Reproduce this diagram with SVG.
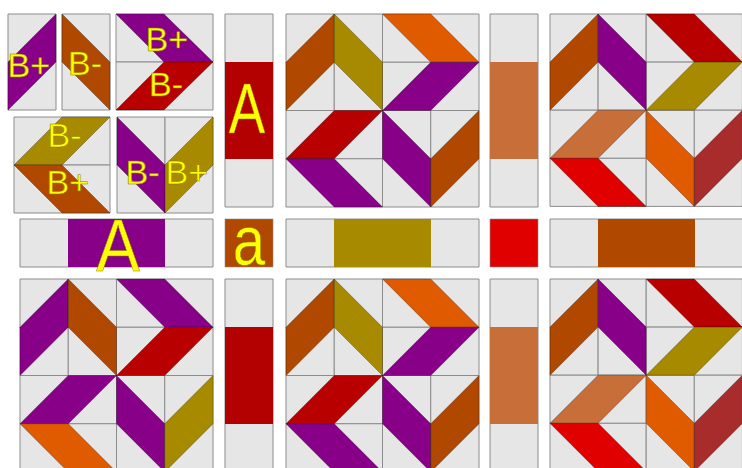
<svg xmlns="http://www.w3.org/2000/svg" width="742" height="468" viewBox="0 0 742 468">
<style>
rect,polygon{vector-effect:non-scaling-stroke}
.bg{fill:#e6e6e6;stroke:#8c8c8c;stroke-width:1}
polygon{stroke:rgba(0,0,0,0.35);stroke-width:0.8;stroke-linejoin:round}
.pu{fill:#880088}.br{fill:#b04800}.ol{fill:#a88a00}.or{fill:#e05a00}.rd{fill:#b80000}
.lo{fill:#c86e38}.brd{fill:#e00000}.drd{fill:#a82c2c}
.lbl{font-family:"Liberation Sans",Arial,sans-serif;fill:#ffff00;stroke:#8a7a00;stroke-width:0.5}
.b{font-size:34px}
</style>
<defs>
<g id="grid">
<rect class="bg" x="0" y="0" width="1" height="2"/>
<rect class="bg" x="1" y="0" width="1" height="2"/>
<rect class="bg" x="2" y="0" width="2" height="1"/>
<rect class="bg" x="2" y="1" width="2" height="1"/>
<rect class="bg" x="0" y="2" width="2" height="1"/>
<rect class="bg" x="0" y="3" width="2" height="1"/>
<rect class="bg" x="2" y="2" width="1" height="2"/>
<rect class="bg" x="3" y="2" width="1" height="2"/>
</g>
</defs>

<!-- sample pieces -->
<g id="piece-bplus">
<rect class="bg" x="8" y="14" width="48" height="96"/>
<polygon class="pu" points="8,110 8,62 56,14 56,62"/>
<text class="lbl b" x="7.5" y="77">B+</text>
</g>
<g id="piece-bminus">
<rect class="bg" x="62" y="14" width="48" height="96"/>
<polygon class="br" points="62,14 110,62 110,110 62,62"/>
<text class="lbl b" x="68" y="75">B-</text>
</g>
<g id="piece-right-arrow">
<rect class="bg" x="116" y="14" width="97" height="48"/>
<rect class="bg" x="116" y="62" width="97" height="48"/>
<polygon class="pu" points="116,14 164,14 213,62 164,62"/>
<polygon class="rd" points="164,62 213,62 164,110 116,110"/>
<text class="lbl b" x="145.5" y="51">B+</text>
<text class="lbl b" x="149" y="96">B-</text>
</g>
<g id="piece-left-arrow">
<rect class="bg" x="14" y="117" width="96" height="48"/>
<rect class="bg" x="14" y="165" width="96" height="48"/>
<polygon class="ol" points="62,117 110,117 62,165 14,165"/>
<polygon class="br" points="14,165 62,165 110,213 62,213"/>
<text class="lbl b" x="47.5" y="147">B-</text>
<text class="lbl b" x="46.5" y="194">B+</text>
</g>
<g id="piece-v">
<rect class="bg" x="117" y="117" width="48" height="96"/>
<rect class="bg" x="165" y="117" width="48" height="96"/>
<polygon class="pu" points="117,117 165,165 165,213 117,165"/>
<polygon class="ol" points="165,165 213,117 213,165 165,213"/>
<text class="lbl b" x="125.5" y="184">B-</text>
<text class="lbl b" x="165.5" y="184">B+</text>
</g>

<!-- blocks -->
<g id="block-top-middle" transform="translate(286,14) scale(48.25)">
<use href="#grid"/>
<polygon class="br" points="0,1 1,0 1,1 0,2"/>
<polygon class="ol" points="1,0 2,1 2,2 1,1"/>
<polygon class="or" points="2,0 3,0 4,1 3,1"/>
<polygon class="pu" points="3,1 4,1 3,2 2,2"/>
<polygon class="rd" points="1,2 2,2 1,3 0,3"/>
<polygon class="pu" points="0,3 1,3 2,4 1,4"/>
<polygon class="pu" points="2,2 3,3 3,4 2,3"/>
<polygon class="br" points="3,3 4,2 4,3 3,4"/>
</g>
<g id="block-bottom-middle" transform="translate(286,279) scale(48.25)">
<use href="#grid"/>
<polygon class="br" points="0,1 1,0 1,1 0,2"/>
<polygon class="ol" points="1,0 2,1 2,2 1,1"/>
<polygon class="or" points="2,0 3,0 4,1 3,1"/>
<polygon class="pu" points="3,1 4,1 3,2 2,2"/>
<polygon class="rd" points="1,2 2,2 1,3 0,3"/>
<polygon class="pu" points="0,3 1,3 2,4 1,4"/>
<polygon class="pu" points="2,2 3,3 3,4 2,3"/>
<polygon class="br" points="3,3 4,2 4,3 3,4"/>
</g>
<g id="block-bottom-left" transform="translate(20,279) scale(48.25)">
<use href="#grid"/>
<polygon class="pu" points="0,1 1,0 1,1 0,2"/>
<polygon class="br" points="1,0 2,1 2,2 1,1"/>
<polygon class="pu" points="2,0 3,0 4,1 3,1"/>
<polygon class="rd" points="3,1 4,1 3,2 2,2"/>
<polygon class="pu" points="1,2 2,2 1,3 0,3"/>
<polygon class="or" points="0,3 1,3 2,4 1,4"/>
<polygon class="pu" points="2,2 3,3 3,4 2,3"/>
<polygon class="ol" points="3,3 4,2 4,3 3,4"/>
</g>
<g id="block-top-right" transform="translate(550,14) scale(48.1)">
<use href="#grid"/>
<polygon class="br" points="0,1 1,0 1,1 0,2"/>
<polygon class="pu" points="1,0 2,1 2,2 1,1"/>
<polygon class="rd" points="2,0 3,0 4,1 3,1"/>
<polygon class="ol" points="3,1 4,1 3,2 2,2"/>
<polygon class="lo" points="1,2 2,2 1,3 0,3"/>
<polygon class="brd" points="0,3 1,3 2,4 1,4"/>
<polygon class="or" points="2,2 3,3 3,4 2,3"/>
<polygon class="drd" points="3,3 4,2 4,3 3,4"/>
</g>
<g id="block-bottom-right" transform="translate(550,279) scale(48.1)">
<use href="#grid"/>
<polygon class="br" points="0,1 1,0 1,1 0,2"/>
<polygon class="pu" points="1,0 2,1 2,2 1,1"/>
<polygon class="rd" points="2,0 3,0 4,1 3,1"/>
<polygon class="ol" points="3,1 4,1 3,2 2,2"/>
<polygon class="lo" points="1,2 2,2 1,3 0,3"/>
<polygon class="brd" points="0,3 1,3 2,4 1,4"/>
<polygon class="or" points="2,2 3,3 3,4 2,3"/>
<polygon class="drd" points="3,3 4,2 4,3 3,4"/>
</g>

<!-- sashing -->
<g id="sash-a-top">
<rect class="bg" x="225" y="14" width="48" height="193"/>
<rect x="225" y="62" width="48" height="97" fill="#b30000"/>
<text class="lbl" transform="translate(247,133) scale(0.78,1)" text-anchor="middle" font-size="70">A</text>
</g>
<g id="sash-top-4">
<rect class="bg" x="490" y="14" width="48" height="193"/>
<rect class="lo" x="490" y="62" width="48" height="97"/>
</g>
<g id="sash-mid-h">
<rect class="bg" x="286" y="219" width="193" height="48"/>
<rect class="ol" x="334" y="219" width="97" height="48"/>
</g>
<g id="corner-red">
<rect class="brd" x="490" y="219" width="48" height="48" stroke="#8c8c8c" stroke-width="0.6"/>
</g>
<g id="sash-right-h">
<rect class="bg" x="550" y="219" width="193" height="48"/>
<rect class="br" x="598" y="219" width="97" height="48"/>
</g>
<g id="sash-bottom-2">
<rect class="bg" x="225" y="279" width="48" height="193"/>
<rect x="225" y="327" width="48" height="97" fill="#b30000"/>
</g>
<g id="sash-bottom-4">
<rect class="bg" x="490" y="279" width="48" height="193"/>
<rect class="lo" x="490" y="327" width="48" height="97"/>
</g>
<g id="corner-a">
<rect class="br" x="225" y="219" width="48" height="48" stroke="#8c8c8c" stroke-width="0.6"/>
<text class="lbl" transform="translate(249,265) scale(0.82,1)" text-anchor="middle" font-size="71">a</text>
</g>
<g id="sash-a-horizontal">
<rect class="bg" x="20" y="219" width="193" height="48"/>
<rect class="pu" x="68" y="219" width="97" height="48"/>
<text class="lbl" transform="translate(118,271) scale(0.87,1)" text-anchor="middle" font-size="75">A</text>
</g>
<g id="connectors"/>
</svg>
